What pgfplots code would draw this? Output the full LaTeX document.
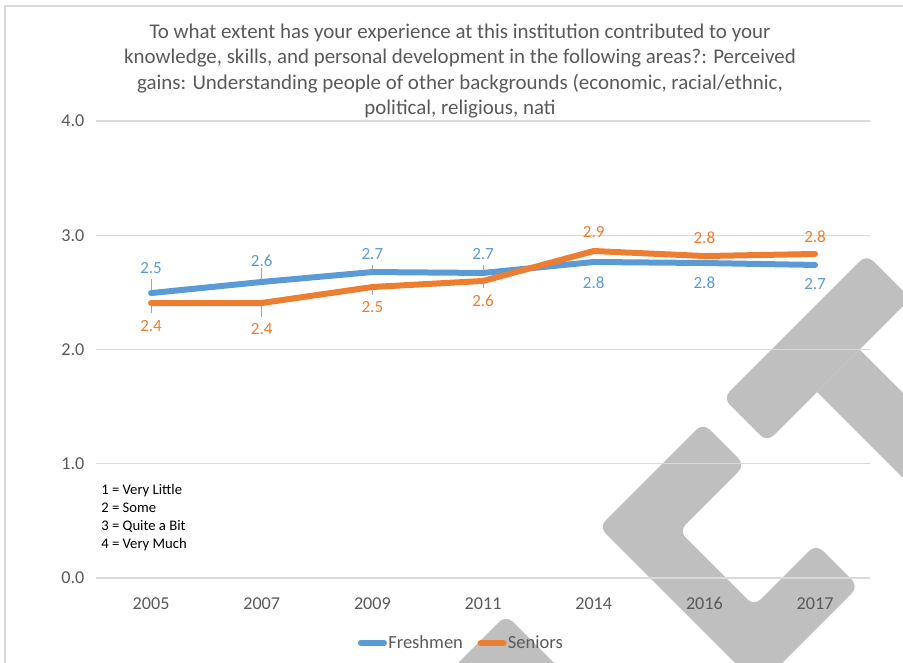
\documentclass[border=0pt]{standalone}
\usepackage{fontspec}
\setmainfont{Carlito}
\usepackage{pgfplots}
\pgfplotsset{compat=1.18}
\usepackage{pgfplotstable}
\definecolor{fblue}{HTML}{5B9BD5}
\definecolor{sorange}{HTML}{ED7D31}
\definecolor{txtgrey}{HTML}{595959}
\definecolor{gridgrey}{HTML}{D9D9D9}
\definecolor{wmgrey}{HTML}{BFBFBF}
\definecolor{leadgrey}{HTML}{A5A5A5}

\pgfplotstableread{
x y off
0 2.494 25
1 2.591 21
2 2.678 18
3 2.670 19
4 2.766 -21
5 2.757 -20
6 2.740 -19
}\fresh
\pgfplotstableread{
x y off
0 2.407 -23
1 2.407 -26
2 2.547 -20
3 2.600 -20
4 2.862 19
5 2.818 18
6 2.836 17
}\senior

\begin{document}
\begin{tikzpicture}
\begin{scope}[x=0.75pt,y=-0.75pt]
\path[use as bounding box] (0,0) rectangle (903,663);
\begin{scope}
\clip (0,0) rectangle (903,663);
% watermark (background)
\fill[wmgrey, rounded corners=7pt] (723,398) -- (866.5,254.5) -- (910.5,298.5) -- (767,442) -- cycle;
\fill[wmgrey] (817,392) -- (859.5,349.5) -- (1005,495) -- (962.5,537.5) -- cycle;
\fill[wmgrey, rounded corners=7pt] (703,423) -- (599,527) -- (758.5,686.5) -- (858.5,586.5) -- (816,544) -- (754,606) -- (679,531) -- (745,465) -- cycle;
\fill[wmgrey, rounded corners=7pt] (420,701) -- (506,615) -- (600,709) -- cycle;
\end{scope}
\draw[gridgrey, line width=1.5pt] (5,663) -- (5,6) -- (903,6);
\node[align=center, text=txtgrey, font=\fontsize{15.7}{18.9}\selectfont] at (460,71)
{To what extent has your experience at this institution contributed to your\\
knowledge, skills, and personal development in the following areas?: Perceived\\
gains: Understanding people of other backgrounds (economic, racial/ethnic,\\
political, religious, nati};
\node[anchor=north west, align=left, inner sep=0pt, font=\fontsize{11}{13.5}\selectfont] at (101,484)
{1 = Very Little\\2 = Some\\3 = Quite a Bit\\4 = Very Much};
\end{scope}
\begin{axis}[
  at={(71.8pt,-433.5pt)}, anchor=south west,
  scale only axis, width=581pt, height=342.75pt,
  xmin=-0.5, xmax=6.5, ymin=0, ymax=4,
  xtick={0,...,6}, xticklabels={2005,2007,2009,2011,2014,2016,2017},
  ytick={0,1,2,3,4},
  yticklabel={\pgfmathprintnumber[fixed,fixed zerofill,precision=1]{\tick}},
  /pgf/number format/assume math mode=true,
  tick label style={font=\fontsize{13.6}{16}\selectfont, text=txtgrey},
  xticklabel style={yshift=-11pt},
  yticklabel style={xshift=-5pt},
  axis line style={draw=none},
  major tick length=0pt,
  ymajorgrids, grid style={gridgrey, line width=1.1pt},
  legend style={at={(0.4716,-0.1422)}, anchor=center, draw=none, fill=none,
    legend columns=2, font=\fontsize{13.9}{16}\selectfont, text=txtgrey,
    /tikz/every even column/.append style={column sep=10pt},
    inner sep=0pt, nodes={inner sep=1pt}},
  legend image code/.code={\draw[#1, line width=4.5pt, line cap=round] (2.25pt,0pt) -- (19.5pt,0pt);},
  clip=false,
]
% leader lines
\addplot[draw=none, forget plot, error bars/.cd, y dir=plus, y explicit,
  error mark=none, error bar style={leadgrey, line width=0.8pt}]
  coordinates {(0,2.494) +- (0,0.12) (1,2.591) +- (0,0.12) (2,2.678) +- (0,0.061) (3,2.670) +- (0,0.07)};
\addplot[draw=none, forget plot, error bars/.cd, y dir=minus, y explicit,
  error mark=none, error bar style={leadgrey, line width=0.8pt}]
  coordinates {(0,2.407) +- (0,0.088) (1,2.407) +- (0,0.123) (2,2.547) +- (0,0.07) (3,2.600) +- (0,0.061)};
\addplot[fblue, line width=4.5pt, line cap=round, line join=round,
  point meta=y,
  visualization depends on={\thisrow{off} \as \off},
  nodes near coords={\pgfmathprintnumber[fixed,fixed zerofill,precision=1]{\pgfplotspointmeta}},
  nodes near coords align={center},
  every node near coord/.append style={anchor=center, yshift=\off*0.75pt,
    font=\fontsize{12.8}{14}\selectfont, text=fblue, inner sep=0pt}]
  table[x=x,y=y] {\fresh};
\addlegendentry{Freshmen}
\addplot[sorange, line width=4.5pt, line cap=round, line join=round,
  point meta=y,
  visualization depends on={\thisrow{off} \as \off},
  nodes near coords={\pgfmathprintnumber[fixed,fixed zerofill,precision=1]{\pgfplotspointmeta}},
  nodes near coords align={center},
  every node near coord/.append style={anchor=center, yshift=\off*0.75pt,
    font=\fontsize{12.8}{14}\selectfont, text=sorange, inner sep=0pt}]
  table[x=x,y=y] {\senior};
\addlegendentry{Seniors}
\end{axis}
\end{tikzpicture}
\end{document}
